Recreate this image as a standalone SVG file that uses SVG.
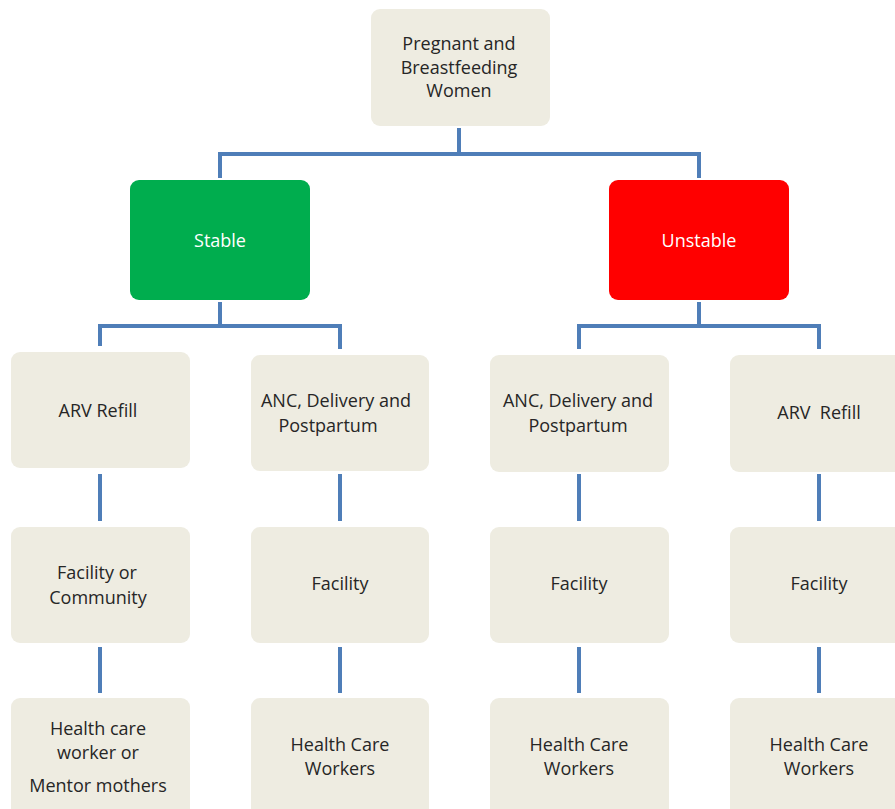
<svg xmlns="http://www.w3.org/2000/svg" width="895" height="809" viewBox="0 0 895 809">
<style>
.box{fill:#EEECE1;}
.t{font-family:"Open Sans","Noto Sans","DejaVu Sans",sans-serif;font-size:18px;fill:#262626;text-anchor:middle;dominant-baseline:central;white-space:pre;}
.w{fill:#FFFFFF;}
.c{fill:none;stroke:#4F7EB8;stroke-width:4;}
</style>
<rect width="895" height="809" fill="#FFFFFF"/>
<g id="connectors">
<path class="c" d="M459,128 V154 M220,154 H699 M220,152 V178 M699,152 V178"/>
<path class="c" d="M220,302 V326 M100,326 H340 M100,324 V346 M340,324 V349"/>
<path class="c" d="M699,302 V326 M579,326 H819 M579,324 V349 M819,324 V349"/>
<path class="c" d="M100,474 V521 M340,474 V521 M579,474 V521 M819,474 V521"/>
<path class="c" d="M100,647 V693 M340,647 V693 M579,647 V693 M819,647 V693"/>
</g>
<g id="root"><rect class="box" x="371" y="9" width="179" height="117" rx="9"/>
<text class="t" x="459" y="43">Pregnant and</text><text class="t" x="459" y="67">Breastfeeding</text><text class="t" x="459" y="90">Women</text></g>
<g id="stable"><rect x="130" y="180" width="180" height="120" rx="9" fill="#00AD4E"/>
<text class="t w" x="220" y="240">Stable</text></g>
<g id="unstable"><rect x="609" y="180" width="180" height="120" rx="9" fill="#FF0000"/>
<text class="t w" x="699" y="240">Unstable</text></g>
<g id="s-arv"><rect class="box" x="11" y="352" width="179" height="116" rx="9"/>
<text class="t" x="98" y="410">ARV Refill</text></g>
<g id="s-anc"><rect class="box" x="251" y="355" width="178" height="116" rx="9"/>
<text class="t" x="336" y="400">ANC, Delivery and</text><text class="t" x="328" y="425">Postpartum</text></g>
<g id="u-anc"><rect class="box" x="490" y="355" width="179" height="117" rx="9"/>
<text class="t" x="578" y="400">ANC, Delivery and</text><text class="t" x="578" y="425">Postpartum</text></g>
<g id="u-arv"><rect class="box" x="730" y="355" width="179" height="117" rx="9"/>
<text class="t" x="819" y="412">ARV  Refill</text></g>
<g id="s-fac"><rect class="box" x="11" y="527" width="179" height="116" rx="9"/>
<text class="t" x="97" y="572">Facility or</text><text class="t" x="98" y="597">Community</text></g>
<g id="s-fac2"><rect class="box" x="251" y="527" width="178" height="116" rx="9"/>
<text class="t" x="340" y="583">Facility</text></g>
<g id="u-fac"><rect class="box" x="490" y="527" width="179" height="116" rx="9"/>
<text class="t" x="579" y="583">Facility</text></g>
<g id="u-fac2"><rect class="box" x="730" y="527" width="179" height="116" rx="9"/>
<text class="t" x="819" y="583">Facility</text></g>
<g id="s-hcw"><rect class="box" x="11" y="698" width="179" height="125" rx="9"/>
<text class="t" x="98" y="728">Health care</text><text class="t" x="98" y="752">worker or</text><text class="t" x="98" y="785">Mentor mothers</text></g>
<g id="s-hcw2"><rect class="box" x="251" y="698" width="178" height="125" rx="9"/>
<text class="t" x="340" y="744">Health Care</text><text class="t" x="340" y="768">Workers</text></g>
<g id="u-hcw"><rect class="box" x="490" y="698" width="179" height="125" rx="9"/>
<text class="t" x="579" y="744">Health Care</text><text class="t" x="579" y="768">Workers</text></g>
<g id="u-hcw2"><rect class="box" x="730" y="698" width="179" height="125" rx="9"/>
<text class="t" x="819" y="744">Health Care</text><text class="t" x="819" y="768">Workers</text></g>
</svg>
